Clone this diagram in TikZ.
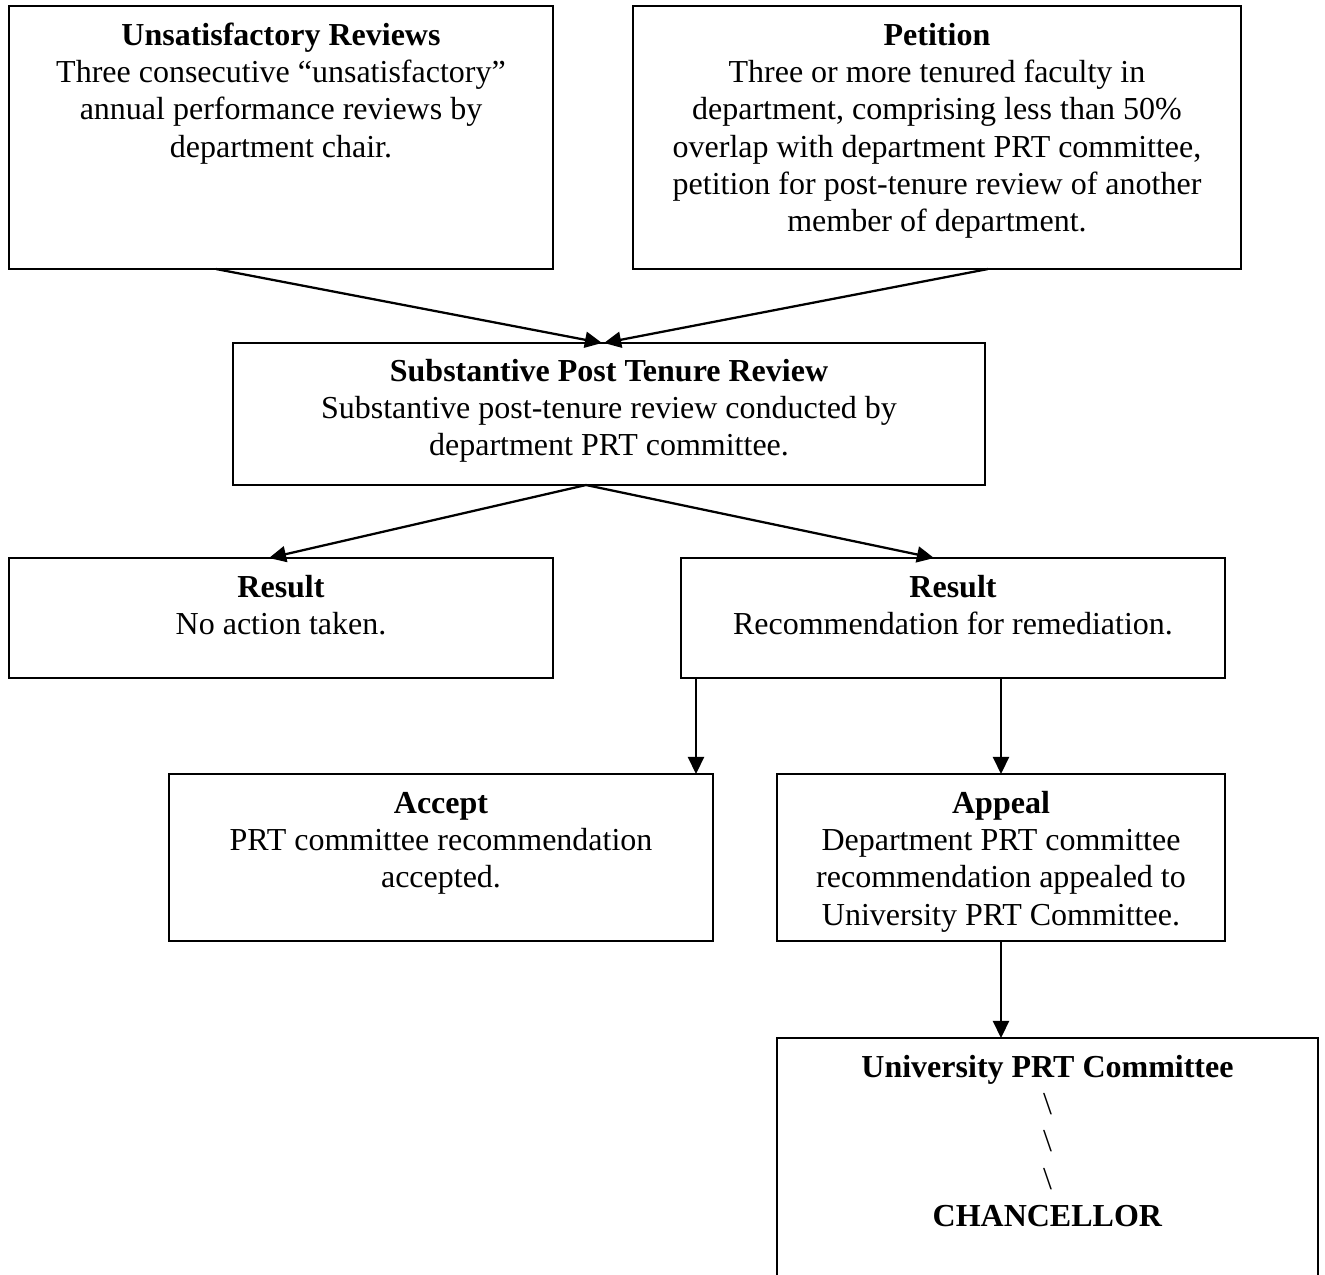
\documentclass[tikz,border=0pt]{standalone}
\usepackage{fontspec}
\setmainfont{Liberation Serif}
\usetikzlibrary{positioning,calc,arrows.meta}
\newcommand{\pxu}{0.375pt}

\begin{document}
\begin{tikzpicture}[x=0.375pt,y=-0.375pt]
\tikzset{box/.style={draw,line width=0.8pt,inner sep=0pt,outer sep=0pt},
	txt/.style={align=center,inner sep=0pt,font=\fontsize{12}{13.9}\selectfont},
	arr/.style={line width=0.85pt,-{Triangle[length=6.4pt,width=6pt]}}}

\useasboundingbox (0,0) rectangle (1325,1274);
\clip (0,0) rectangle (1325,1274);

\node[box,minimum width=544*\pxu,minimum height=263*\pxu] (unsat) at (281,137.5) {};
\node[txt,below=5pt of unsat.north] (unsattext) {\strut\textbf{Unsatisfactory Reviews}\\
	Three consecutive “unsatisfactory”\\annual performance reviews by\\department chair.};

\node[box,minimum width=608*\pxu,minimum height=263*\pxu] (petition) at (937,137.5) {};
\node[txt,below=5pt of petition.north] (petitiontext) {\strut\textbf{Petition}\\
	Three or more tenured faculty in\\department, comprising less than 50\%\\
	overlap with department PRT committee,\\petition for post-tenure review of another\\
	member of department.};

\node[box,minimum width=752*\pxu,minimum height=142*\pxu] (subst) at (609,414) {};
\node[txt,below=4.5pt of subst.north] (substtext) {\strut\textbf{Substantive Post Tenure Review}\\
	Substantive post-tenure review conducted by\\department PRT committee.};

\node[box,minimum width=544*\pxu,minimum height=120*\pxu] (res1) at (281,618) {};
\node[txt,below=5pt of res1.north] (res1text) {\strut\textbf{Result}\\No action taken.};

\node[box,minimum width=544*\pxu,minimum height=120*\pxu] (res2) at (953,618) {};
\node[txt,below=5pt of res2.north] (res2text) {\strut\textbf{Result}\\Recommendation for remediation.};

\node[box,minimum width=544*\pxu,minimum height=167*\pxu] (accept) at (441,857.5) {};
\node[txt,below=5pt of accept.north] (accepttext) {\strut\textbf{Accept}\\
	PRT committee recommendation\\accepted.};

\node[box,minimum width=448*\pxu,minimum height=167*\pxu] (appeal) at (1001,857.5) {};
\node[txt,below=5pt of appeal.north] (appealtext) {\strut\textbf{Appeal}\\
	Department PRT committee\\recommendation appealed to\\University PRT Committee.};

\node[box,minimum width=541*\pxu,minimum height=280*\pxu] (univ) at (1047.5,1178) {};
\node[txt,below=5pt of univ.north] (univtext) {\strut\textbf{University PRT Committee}\\
	\textbackslash\\\textbackslash\\\textbackslash\\\textbf{CHANCELLOR}};

\draw[arr] ($(unsat.south)+(-65,0)$) -- ($(subst.north)+(-7,0)$);
\draw[arr] ($(petition.south)+(51,0)$) -- ($(subst.north)+(-5,0)$);
\draw[arr] ($(subst.south)+(-23,0)$) -- ($(res1.north)+(-12,0)$);
\draw[arr] ($(subst.south)+(-23,0)$) -- ($(res2.north)+(-19,0)$);
\draw[arr] ($(res2.south west)+(15,0)$) coordinate (r2acc) -- (r2acc |- accept.north);
\draw[arr] (appeal.north |- res2.south) -- (appeal.north);
\draw[arr] (appeal.south) -- (appeal.south |- univ.north);

\end{tikzpicture}
\end{document}
